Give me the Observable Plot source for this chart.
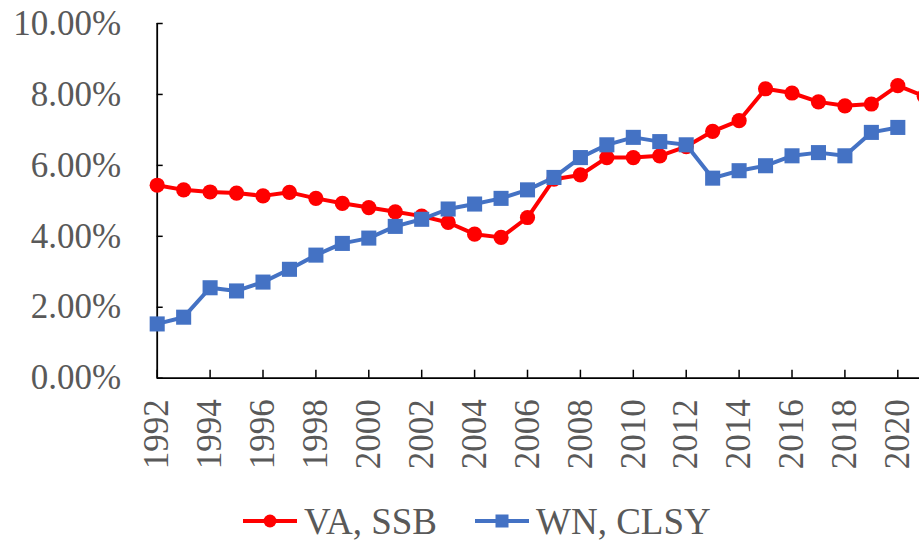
<!DOCTYPE html>
<html>
<head>
<meta charset="utf-8">
<script src="https://cdn.jsdelivr.net/npm/d3@7"></script>
<script src="https://cdn.jsdelivr.net/npm/@observablehq/plot@0.6"></script>
<style>
  html, body { margin: 0; padding: 0; background: #fff; overflow: hidden; }
  body { width: 919px; height: 540px; position: relative; }
  #chart svg { overflow: hidden; display: block; }
  .legend { position: absolute; left: 243px; top: 500px; height: 42px; display: flex; align-items: center;
            font-family: "Liberation Serif", "Times New Roman", serif; font-size: 37px; color: #595959; white-space: nowrap; }
  .legend .item { display: flex; align-items: center; }
  .legend svg { display: block; }
</style>
</head>
<body>
<div id="chart"></div>
<div class="legend" id="legend"></div>
<script>
// ---- data (percent) ----
const years = [1992,1993,1994,1995,1996,1997,1998,1999,2000,2001,2002,2003,2004,2005,2006,
               2007,2008,2009,2010,2011,2012,2013,2014,2015,2016,2017,2018,2019,2020,2021];
const vaSSB = [5.44,5.31,5.25,5.22,5.14,5.24,5.07,4.93,4.81,4.69,4.57,4.39,4.06,3.97,4.53,
               5.61,5.73,6.22,6.22,6.27,6.53,6.96,7.26,8.16,8.04,7.79,7.68,7.73,8.25,7.95];
const wnCLSY = [1.53,1.72,2.55,2.46,2.71,3.07,3.47,3.80,3.95,4.28,4.48,4.77,4.91,5.07,5.31,
                5.66,6.22,6.58,6.79,6.67,6.58,5.64,5.85,5.99,6.27,6.36,6.27,6.93,7.07];
const seriesNames = ["VA, SSB", "WN, CLSY"];
const seriesColors = ["#FF0000", "#4472C4"];
const yTicks = [0, 2, 4, 6, 8, 10];
const xTickYears = [1992,1994,1996,1998,2000,2002,2004,2006,2008,2010,2012,2014,2016,2018,2020];

const va = vaSSB.map((v, i) => ({year: years[i], value: v}));
const wn = wnCLSY.map((v, i) => ({year: years[i], value: v}));

const font = "'Liberation Serif', 'Times New Roman', serif";

const chart = Plot.plot({
  width: 919,
  height: 490,
  marginLeft: 156.7,
  marginRight: 0,
  marginTop: 23,
  marginBottom: 112.3,
  style: {fontFamily: font, fontSize: "35px", color: "#595959", background: "white", overflow: "hidden"},
  x: {domain: [1992, 2020.82], axis: null},
  y: {domain: [0, 10], axis: null},
  marks: [
    Plot.axisY({ticks: yTicks, tickSize: 0, tickPadding: 36, tickFormat: d => d.toFixed(2) + "%", label: null, fill: "#595959"}),
    Plot.axisY({ticks: yTicks, text: null, tickSize: 6, dx: 6, stroke: "#000", strokeWidth: 1.5, label: null}),
    Plot.axisX({ticks: xTickYears, tickSize: 0, tickPadding: 21, tickRotate: -90, tickFormat: d => String(d), label: null, fill: "#595959"}),
    Plot.axisX({ticks: xTickYears, text: null, tickSize: 8, dy: -8, stroke: "#000", strokeWidth: 1.5, label: null}),
    Plot.ruleX([1992], {y1: 0, y2: 10, stroke: "#000", strokeWidth: 1.8}),
    Plot.ruleY([0], {stroke: "#000", strokeWidth: 1.8}),
    Plot.line(va, {x: "year", y: "value", stroke: seriesColors[0], strokeWidth: 4}),
    Plot.dot(va, {x: "year", y: "value", r: 7.6, fill: seriesColors[0], stroke: null}),
    Plot.line(wn, {x: "year", y: "value", stroke: seriesColors[1], strokeWidth: 4}),
    Plot.dot(wn, {x: "year", y: "value", symbol: "square", r: 8.5, fill: seriesColors[1], stroke: null})
  ]
});
document.getElementById("chart").appendChild(chart);

// legend
const legend = document.getElementById("legend");
const gaps = [38, 0];
seriesNames.forEach((name, i) => {
  const item = document.createElement("div");
  item.className = "item";
  item.style.marginRight = gaps[i] + "px";
  const marker = i === 0
    ? `<circle cx="27" cy="10" r="6.5" fill="${seriesColors[i]}"/>`
    : `<rect x="20.5" y="3.5" width="13" height="13" fill="${seriesColors[i]}"/>`;
  item.innerHTML = `<svg width="54" height="20"><line x1="0" y1="10" x2="54" y2="10" stroke="${seriesColors[i]}" stroke-width="4"/>${marker}</svg><span style="margin-left:7px">${name}</span>`;
  legend.appendChild(item);
});
</script>
</body>
</html>
